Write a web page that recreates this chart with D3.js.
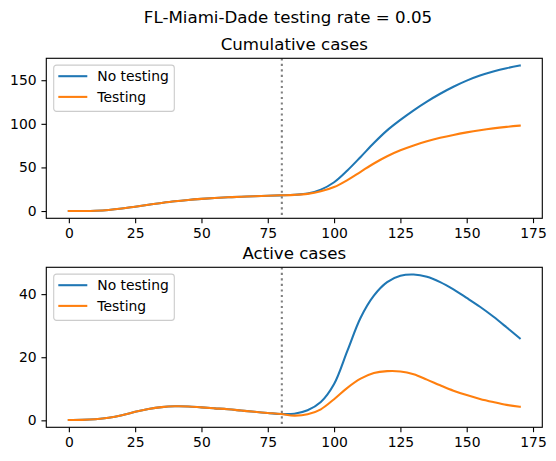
<!DOCTYPE html>
<html>
<head>
<meta charset="utf-8">
<script src="https://cdn.jsdelivr.net/npm/d3@7"></script>
<style>
  html, body { margin: 0; padding: 0; background: #fff; }
  svg { display: block; font-family: "DejaVu Sans", sans-serif; }
</style>
</head>
<body>
<svg id="chart" width="556" height="461"></svg>
<script>
// ---- data ----
const days = [0,5,10,15,20,25,30,35,40,45,50,55,60,65,70,75,80,85,90,95,100,105,110,115,120,125,130,135,140,145,150,155,160,165,170];

const cumulativeNoTesting = [0,0.1,0.4,1.2,2.8,5.0,7.2,9.3,11.2,12.7,13.9,14.9,15.7,16.4,17.0,17.5,18.0,18.6,20.0,24.5,33,46.5,62,78,92.5,104.5,115.5,125.5,134.5,142.5,149.5,155.3,160,163.8,166.8];
const cumulativeTesting   = [0,0.1,0.4,1.2,2.8,5.0,7.2,9.3,11.2,12.7,13.9,14.9,15.7,16.4,17.0,17.5,18.0,18.5,19.7,22.6,27.5,35.5,45,54.5,62.8,69.6,75.2,79.9,83.9,87.3,90.2,92.7,94.8,96.5,97.9];

const activeNoTesting = [0.1,0.15,0.35,0.8,1.6,2.7,3.6,4.2,4.45,4.4,4.1,3.8,3.5,3.1,2.7,2.35,2.0,2.1,3.2,5.8,11.5,22,32.5,39.5,43.8,45.8,46.2,45.5,43.8,41.5,38.8,36.0,32.9,29.5,26.0];
const activeTesting   = [0.1,0.15,0.35,0.8,1.6,2.7,3.6,4.2,4.45,4.4,4.1,3.8,3.5,3.1,2.7,2.35,2.0,1.5,1.9,3.5,6.7,10.3,13.2,15.0,15.6,15.5,14.6,12.9,11.1,9.4,8.0,6.8,5.8,4.9,4.3];

const interventionDay = 80.3;
const xTicks = [0,25,50,75,100,125,150,175];
const cumTicks = [0,50,100,150];
const actTicks = [0,20,40];
const seriesNames = ["No testing","Testing"];
const suptitle = "FL-Miami-Dade testing rate = 0.05";
const titles = ["Cumulative cases","Active cases"];

// ---- layout ----
const colors = ["#1f77b4","#ff7f0e"];
const left = 46.3, right = 542.3;
const panels = [
  {top: 58.3, bottom: 218.3, series: [cumulativeNoTesting, cumulativeTesting], ticks: cumTicks, title: titles[0]},
  {top: 267.3, bottom: 427.3, series: [activeNoTesting, activeTesting], ticks: actTicks, title: titles[1]}
];

const svg = d3.select("#chart");
svg.append("rect").attr("width",556).attr("height",461).attr("fill","#fff");

svg.append("text")
  .attr("x", 288).attr("y", 22.7)
  .attr("text-anchor","middle")
  .attr("font-size", 16.67)
  .attr("fill","#000")
  .text(suptitle);

const xMin = d3.min(days), xMax = d3.max(days);
const xPad = (xMax - xMin) * 0.05;
const x = d3.scaleLinear().domain([xMin - xPad, xMax + xPad]).range([left, right]);

const tickLen = 4.86, tickPad = 4.86;

panels.forEach(p => {
  const all = p.series.flat();
  const yMin = d3.min(all), yMax = d3.max(all);
  const yPad = (yMax - yMin) * 0.05;
  const y = d3.scaleLinear().domain([yMin - yPad, yMax + yPad]).range([p.bottom, p.top]);

  const g = svg.append("g");

  const clipId = "clip" + Math.round(p.top);
  svg.append("clipPath").attr("id", clipId)
    .append("rect").attr("x", left).attr("y", p.top).attr("width", right-left).attr("height", p.bottom-p.top);

  const plot = g.append("g").attr("clip-path", `url(#${clipId})`);

  // vertical dotted line
  plot.append("line")
    .attr("x1", x(interventionDay)).attr("x2", x(interventionDay))
    .attr("y1", p.top).attr("y2", p.bottom)
    .attr("stroke", "#808080").attr("stroke-width", 2.08)
    .attr("stroke-dasharray", "2.08,3.44");

  const line = d3.line().x((d,i) => x(days[i])).y(d => y(d)).curve(d3.curveCatmullRom.alpha(0.5));
  p.series.forEach((s, k) => {
    plot.append("path").datum(s)
      .attr("d", line)
      .attr("fill","none")
      .attr("stroke", colors[k])
      .attr("stroke-width", 2.08)
      .attr("stroke-linejoin","round")
      .attr("stroke-linecap","square");
  });

  // axes
  const xAxis = d3.axisBottom(x).tickValues(xTicks).tickSize(tickLen).tickPadding(tickPad).tickFormat(d3.format("d"));
  const gx = g.append("g").attr("transform", `translate(0,${p.bottom})`).call(xAxis);
  const yAxis = d3.axisLeft(y).tickValues(p.ticks).tickSize(tickLen).tickPadding(tickPad).tickFormat(d3.format("d"));
  const gy = g.append("g").attr("transform", `translate(${left},0)`).call(yAxis);
  [gx, gy].forEach(a => {
    a.select(".domain").remove();
    a.selectAll(".tick line").attr("stroke","#000").attr("stroke-width",1.11);
    a.selectAll(".tick text").attr("font-size",13.9).attr("fill","#000").attr("font-family","DejaVu Sans, sans-serif");
  });

  // frame
  g.append("rect")
    .attr("x", left).attr("y", p.top).attr("width", right-left).attr("height", p.bottom-p.top)
    .attr("fill","none").attr("stroke","#000").attr("stroke-width",1.11);

  // title
  g.append("text")
    .attr("x", (left+right)/2).attr("y", p.top - 8.33)
    .attr("text-anchor","middle").attr("font-size",16.67).attr("fill","#000")
    .text(p.title);

  // legend
  const lg = g.append("g").attr("transform", `translate(${53.7},${p.top + 6.8})`);
  lg.append("rect").attr("width", 120.6).attr("height", 46.3).attr("rx", 2.8)
    .attr("fill","#fff").attr("fill-opacity",0.8)
    .attr("stroke","#cccccc").attr("stroke-width",1.11);
  seriesNames.forEach((n, k) => {
    const yy = 11.1 + k*20.7;
    lg.append("line").attr("x1", 4.6).attr("x2", 33.6).attr("y1", yy).attr("y2", yy)
      .attr("stroke", colors[k]).attr("stroke-width", 2.08);
    lg.append("text").attr("x", 43.6).attr("y", yy).attr("dy","0.36em")
      .attr("font-size",13.9).attr("fill","#000").text(n);
  });
});
</script>
</body>
</html>
